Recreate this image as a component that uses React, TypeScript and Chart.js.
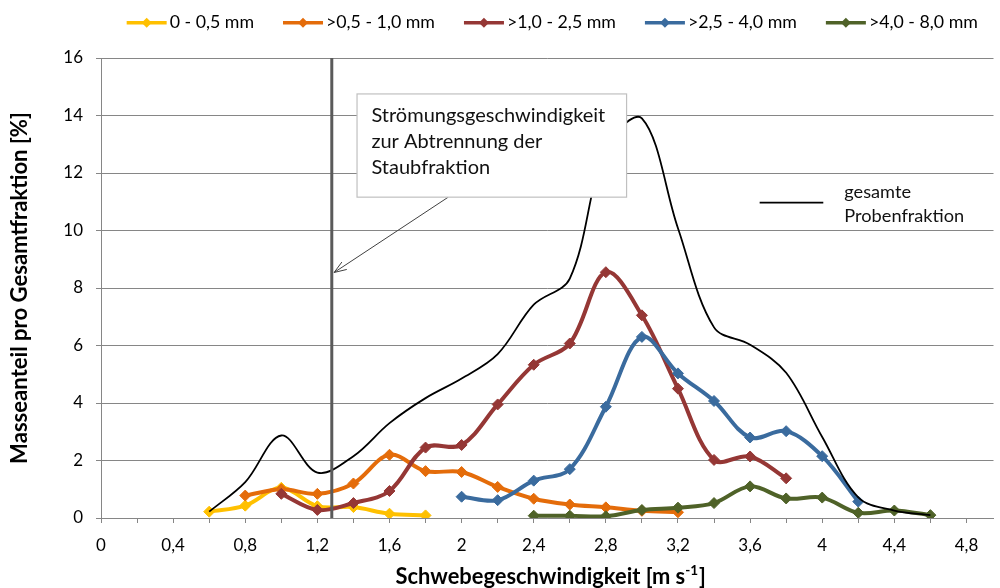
import React, { useEffect, useRef } from 'react';
import { Chart, registerables } from 'chart.js';

Chart.register(...registerables);

const FONT = 'Lato, "Open Sans", sans-serif';

// ---- data ----
const seriesLabels = ['0 - 0,5 mm', '>0,5 - 1,0 mm', '>1,0 - 2,5 mm', '>2,5 - 4,0 mm', '>4,0 - 8,0 mm'];
const totalLabel = 'gesamte Probenfraktion';

const xFine = [0.6, 0.8, 1.0, 1.2, 1.4, 1.6, 1.8];
const yFine = [0.22, 0.43, 1.05, 0.41, 0.38, 0.15, 0.09];

const xMedium = [0.8, 1.0, 1.2, 1.4, 1.6, 1.8, 2.0, 2.2, 2.4, 2.6, 2.8, 3.0, 3.2];
const yMedium = [0.78, 1.0, 0.84, 1.2, 2.2, 1.63, 1.6, 1.08, 0.67, 0.47, 0.37, 0.25, 0.2];

const xCoarse1 = [1.0, 1.2, 1.4, 1.6, 1.8, 2.0, 2.2, 2.4, 2.6, 2.8, 3.0, 3.2, 3.4, 3.6, 3.8];
const yCoarse1 = [0.84, 0.28, 0.52, 0.94, 2.45, 2.54, 3.95, 5.33, 6.07, 8.55, 7.05, 4.5, 2.02, 2.14, 1.38];

const xCoarse2 = [2.0, 2.2, 2.4, 2.6, 2.8, 3.0, 3.2, 3.4, 3.6, 3.8, 4.0, 4.2];
const yCoarse2 = [0.74, 0.62, 1.3, 1.7, 3.87, 6.3, 5.03, 4.07, 2.8, 3.02, 2.15, 0.57];

const xCoarse3 = [2.4, 2.6, 2.8, 3.0, 3.2, 3.4, 3.6, 3.8, 4.0, 4.2, 4.4, 4.6];
const yCoarse3 = [0.08, 0.08, 0.06, 0.28, 0.36, 0.52, 1.1, 0.68, 0.71, 0.18, 0.26, 0.1];

const xTotal = [0.6, 0.8, 1.0, 1.2, 1.4, 1.6, 1.8, 2.0, 2.2, 2.4, 2.6, 2.8, 3.0, 3.2, 3.4, 3.6, 3.8, 4.0, 4.2, 4.4, 4.6];
const yTotal = [0.22, 1.25, 2.87, 1.58, 2.15, 3.3, 4.17, 4.85, 5.7, 7.42, 8.33, 12.85, 13.9, 10.08, 6.63, 6.03, 5.05, 2.82, 0.72, 0.26, 0.1];

const separationSpeed = 1.28;
const noteLines = ['Strömungsgeschwindigkeit', 'zur Abtrennung der', 'Staubfraktion'];
const totalLegendLines = ['gesamte', 'Probenfraktion'];
const xTitleMain = 'Schwebegeschwindigkeit [m s';
const xTitleSup = '-1';
const xTitleEnd = ']';
const yTitle = 'Masseanteil pro Gesamtfraktion [%]';

// annotation placement in data units
const noteBox = { x1: 1.42, x2: 2.915, yTop: 14.75, yBottom: 11.16 };
const arrow = { fromX: 1.926, fromY: 11.16, toX: 1.293, toY: 8.54 };
const totalLegendPos = { x1: 3.653, x2: 4.006, y: 10.97 };

const colors = ['#FFC000', '#E46C0A', '#953735', '#3A6B9E', '#4F6228'];

export default function App() {
  const ref = useRef<HTMLCanvasElement>(null);

  useEffect(() => {
    const canvas = ref.current!;
    const m = canvas.getContext('2d')!;
    const fit = (text: string, width: number, weight = 'normal') => {
      m.font = `${weight} 100px ${FONT}`;
      return (100 * width) / m.measureText(text).width;
    };
    const tickSize = fit('2,8', 23.5);
    const legendSize = fit('>4,0 - 8,0 mm', 109);
    const noteSize = fit(noteLines[0], 234);
    const totalSize = fit('Probenfraktion', 120);
    const xTitleSize = fit(xTitleMain, 290, 'bold');
    const yTitleSize = fit(yTitle, 352, 'bold');

    Chart.defaults.font.family = FONT;

    const mk = (label: string, xs: number[], ys: number[], color: string, order: number) => ({
      label,
      data: xs.map((x, i) => ({ x, y: ys[i] })),
      borderColor: color,
      backgroundColor: color,
      borderWidth: 4,
      pointStyle: 'rectRot',
      pointRadius: 5.5,
      pointBorderWidth: 1,
      pointBackgroundColor: color,
      pointBorderColor: color,
      tension: 0.35,
      fill: false,
      order,
    });

    const datasets: any[] = [
      mk(seriesLabels[0], xFine, yFine, colors[0], 5),
      mk(seriesLabels[1], xMedium, yMedium, colors[1], 4),
      mk(seriesLabels[2], xCoarse1, yCoarse1, colors[2], 3),
      mk(seriesLabels[3], xCoarse2, yCoarse2, colors[3], 2),
      mk(seriesLabels[4], xCoarse3, yCoarse3, colors[4], 1),
      {
        label: totalLabel,
        data: xTotal.map((x, i) => ({ x, y: yTotal[i] })),
        borderColor: '#000',
        backgroundColor: '#000',
        borderWidth: 1.8,
        pointRadius: 0,
        tension: 0.35,
        fill: false,
        order: 0,
      },
    ];

    const diamond = (ctx: CanvasRenderingContext2D, cx: number, cy: number, r: number) => {
      ctx.beginPath();
      ctx.moveTo(cx - r, cy);
      ctx.lineTo(cx, cy - r);
      ctx.lineTo(cx + r, cy);
      ctx.lineTo(cx, cy + r);
      ctx.closePath();
      ctx.fill();
    };

    const annotations = {
      id: 'annotations',
      afterDatasetsDraw(chart: any) {
        const { ctx, chartArea, scales } = chart;
        const x = scales.x;
        const y = scales.y;
        ctx.save();
        // separation velocity line
        const vx = x.getPixelForValue(separationSpeed);
        ctx.strokeStyle = '#5a5a5a';
        ctx.lineWidth = 3;
        ctx.beginPath();
        ctx.moveTo(vx, chartArea.top);
        ctx.lineTo(vx, chartArea.bottom);
        ctx.stroke();

        // arrow
        const ax1 = x.getPixelForValue(arrow.fromX);
        const ay1 = y.getPixelForValue(arrow.fromY);
        const ax2 = x.getPixelForValue(arrow.toX);
        const ay2 = y.getPixelForValue(arrow.toY);
        ctx.strokeStyle = '#404040';
        ctx.lineWidth = 1;
        ctx.beginPath();
        ctx.moveTo(ax1, ay1);
        ctx.lineTo(ax2, ay2);
        const ang = Math.atan2(ay1 - ay2, ax1 - ax2);
        const hl = 13;
        const spread = (20 * Math.PI) / 180;
        ctx.moveTo(ax2 + hl * Math.cos(ang - spread), ay2 + hl * Math.sin(ang - spread));
        ctx.lineTo(ax2, ay2);
        ctx.lineTo(ax2 + hl * Math.cos(ang + spread), ay2 + hl * Math.sin(ang + spread));
        ctx.stroke();

        // note box
        const bx1 = x.getPixelForValue(noteBox.x1);
        const bx2 = x.getPixelForValue(noteBox.x2);
        const by1 = y.getPixelForValue(noteBox.yTop);
        const by2 = y.getPixelForValue(noteBox.yBottom);
        ctx.fillStyle = '#ffffff';
        ctx.fillRect(bx1, by1, bx2 - bx1, by2 - by1);
        ctx.strokeStyle = '#c0c0c0';
        ctx.lineWidth = 1.2;
        ctx.strokeRect(bx1, by1, bx2 - bx1, by2 - by1);
        ctx.fillStyle = '#111';
        ctx.font = `${noteSize}px ${FONT}`;
        ctx.textAlign = 'left';
        ctx.textBaseline = 'alphabetic';
        noteLines.forEach((t, i) => ctx.fillText(t, bx1 + 14.4, by1 + 28.4 + i * 25.7));

        // total legend
        const lx1 = x.getPixelForValue(totalLegendPos.x1);
        const lx2 = x.getPixelForValue(totalLegendPos.x2);
        const ly = y.getPixelForValue(totalLegendPos.y);
        ctx.strokeStyle = '#000';
        ctx.lineWidth = 1.8;
        ctx.beginPath();
        ctx.moveTo(lx1, ly);
        ctx.lineTo(lx2, ly);
        ctx.stroke();
        ctx.fillStyle = '#111';
        ctx.font = `${totalSize}px ${FONT}`;
        totalLegendLines.forEach((t, i) => ctx.fillText(t, lx2 + 21, ly - 4.4 + i * 23.4));
        ctx.restore();
      },
    };

    const topLegend = {
      id: 'topLegend',
      afterDraw(chart: any) {
        const { ctx, chartArea } = chart;
        ctx.save();
        ctx.font = `${legendSize}px ${FONT}`;
        const items = chart.data.datasets.filter((d: any) => d.label !== totalLabel);
        const widths = items.map((d: any) => ctx.measureText(d.label).width);
        const lineLen = 40;
        const gapText = 3;
        const gapItem = 29;
        const total =
          widths.reduce((s: number, w: number) => s + lineLen + gapText + w, 0) + gapItem * (items.length - 1);
        let cx = (chartArea.left + chartArea.right) / 2 + 5 - total / 2;
        const ly = 22.7;
        items.forEach((d: any, i: number) => {
          ctx.strokeStyle = d.borderColor;
          ctx.lineWidth = 3.5;
          ctx.beginPath();
          ctx.moveTo(cx, ly);
          ctx.lineTo(cx + lineLen, ly);
          ctx.stroke();
          ctx.fillStyle = d.borderColor;
          diamond(ctx, cx + lineLen / 2, ly, 5);
          ctx.fillStyle = '#000';
          ctx.textAlign = 'left';
          ctx.textBaseline = 'alphabetic';
          ctx.fillText(d.label, cx + lineLen + gapText, 28.3);
          cx += lineLen + gapText + widths[i] + gapItem;
        });
        ctx.restore();
      },
    };

    const xTitlePlugin = {
      id: 'xTitle',
      afterDraw(chart: any) {
        const { ctx, chartArea } = chart;
        ctx.save();
        ctx.fillStyle = '#000';
        ctx.textBaseline = 'alphabetic';
        ctx.textAlign = 'left';
        const mainFont = `bold ${xTitleSize}px ${FONT}`;
        const supFont = `bold ${xTitleSize * 0.62}px ${FONT}`;
        ctx.font = mainFont;
        const wMain = ctx.measureText(xTitleMain).width;
        const wEnd = ctx.measureText(xTitleEnd).width;
        ctx.font = supFont;
        const wSup = ctx.measureText(xTitleSup).width;
        const totalW = wMain + wSup + wEnd + 1;
        const cx = (chartArea.left + chartArea.right) / 2 + 3.5;
        let px = cx - totalW / 2;
        const base = 584;
        ctx.font = mainFont;
        ctx.fillText(xTitleMain, px, base);
        px += wMain;
        ctx.font = supFont;
        ctx.fillText(xTitleSup, px, base - xTitleSize * 0.42);
        px += wSup + 1;
        ctx.font = mainFont;
        ctx.fillText(xTitleEnd, px, base);
        ctx.restore();
      },
    };

    const fmt = (v: number) => String(Math.round(v * 10) / 10).replace('.', ',');

    const chart = new Chart(canvas, {
      type: 'line',
      data: { datasets },
      options: {
        animation: false,
        responsive: false,
        maintainAspectRatio: false,
        layout: { padding: { top: 58, right: 2, bottom: 0, left: 0 } },
        plugins: {
          legend: { display: false },
          tooltip: { enabled: false },
        },
        scales: {
          x: {
            type: 'linear',
            min: 0,
            max: 4.95,
            afterFit: (s: any) => {
              s.height = 70;
            },
            ticks: {
              stepSize: 0.2,
              includeBounds: false,
              autoSkip: false,
              maxRotation: 0,
              padding: 12,
              color: '#000',
              font: { size: tickSize, family: FONT },
              callback: (v: any) => (Math.round(Number(v) * 10) % 4 === 0 ? fmt(Number(v)) : ''),
            },
            grid: { display: true, drawOnChartArea: false, drawTicks: true, tickLength: 5, color: '#868686' },
            border: { display: true, color: '#868686', width: 1 },
          },
          y: {
            type: 'linear',
            min: 0,
            max: 16,
            afterFit: (s: any) => {
              s.width = 101;
            },
            ticks: {
              stepSize: 2,
              padding: 13,
              color: '#000',
              font: { size: tickSize, family: FONT },
            },
            grid: { color: '#868686', tickLength: 5 },
            border: { display: true, color: '#868686', width: 1 },
            title: {
              display: true,
              text: yTitle,
              color: '#000',
              font: { size: yTitleSize, weight: 'bold', family: FONT },
              padding: { top: 20 - (yTitleSize * 1.2) / 2, bottom: 0 },
            },
          },
        },
      } as any,
      plugins: [annotations, topLegend, xTitlePlugin],
    });

    return () => chart.destroy();
  }, []);

  return (
    <div style={{ position: 'fixed', left: 0, top: 0, width: 1000, height: 588, background: '#fff' }}>
      <canvas ref={ref} width={1000} height={588} style={{ display: 'block' }} />
    </div>
  );
}
